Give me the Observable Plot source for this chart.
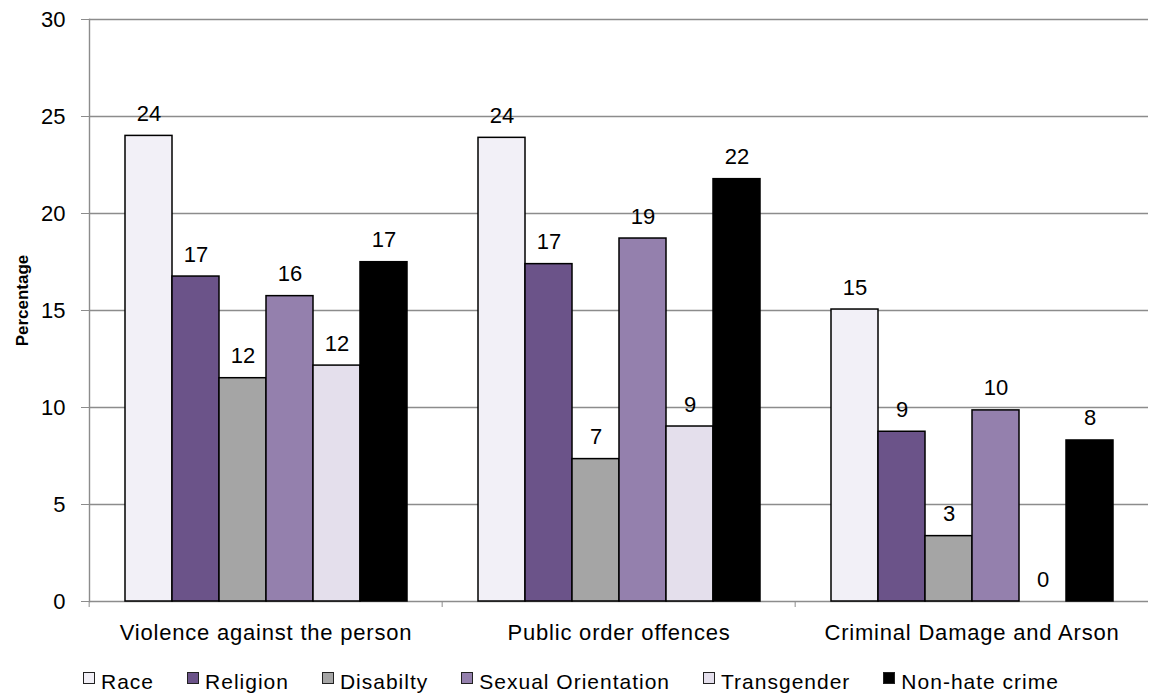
<!DOCTYPE html>
<html><head><meta charset="utf-8">
<script src="https://cdn.jsdelivr.net/npm/d3@7"></script>
<script src="https://cdn.jsdelivr.net/npm/@observablehq/plot@0.6"></script>
<style>
body{margin:0;background:#fff;font-family:"Liberation Sans",Arial,sans-serif;}
#chart svg{display:block;font-family:"Liberation Sans",Arial,sans-serif;}
g[aria-label="fx-axis tick label"] text{letter-spacing:0.8px;}
.legend{display:flex;gap:33px;padding-left:83px;margin-top:20px;font-size:21px;letter-spacing:1px;color:#000;line-height:24px;}
.item{display:flex;align-items:center;}
.sw{width:10px;height:10px;border:1.5px solid #222;margin-right:6px;position:relative;top:-4px;}
</style></head><body>
<div id="chart"></div>
<div class="legend" id="legend"></div>
<script>
// ---- data ----
const groups = ["Violence against the person", "Public order offences", "Criminal Damage and Arson"];
const series = ["Race", "Religion", "Disabilty", "Sexual Orientation", "Transgender", "Non-hate crime"];
const race        = [24.0, 23.9, 15.05];
const religion    = [16.75, 17.39, 8.75];
const disability  = [11.51, 7.34, 3.37];
const sexual      = [15.74, 18.71, 9.85];
const transgender = [12.16, 9.02, 0];
const nonHate     = [17.49, 21.77, 8.30];
const yTicks = [0, 5, 10, 15, 20, 25, 30];
const yLabel = "Percentage";
const colors = ["#F2F0F7", "#6B5389", "#A5A5A5", "#9480AD", "#E4DFEC", "#000000"];

const seriesValues = [race, religion, disability, sexual, transgender, nonHate];
const rows = [];
groups.forEach((g, i) => series.forEach((s, j) => rows.push({group: g, series: s, value: seriesValues[j][i]})));

const W = 1149, ML = 88, MR = 0;
const bw = (W - ML - MR) / groups.length;
const gray = "#8c8c8c";

const plot = Plot.plot({
  width: W, height: 650,
  marginLeft: ML, marginRight: MR, marginTop: 19, marginBottom: 49,
  style: {fontSize: "22px", fontFamily: "'Liberation Sans', Arial, sans-serif", color: "#000", background: "#fff", overflow: "visible"},
  fx: {domain: groups, padding: 0},
  x: {domain: series, paddingInner: 0, paddingOuter: 0.735, axis: null},
  y: {domain: [0, 30]},
  color: {domain: series, range: colors},
  marks: [
    Plot.gridY(yTicks, {stroke: gray, strokeOpacity: 1, strokeWidth: 1.4}),
    Plot.frame({anchor: "left", facetAnchor: "left", stroke: gray, strokeWidth: 1.4}),
    Plot.axisY(yTicks, {tickSize: 8, tickPadding: 16, stroke: gray, fill: "#000", label: null, fontSize: 22}),
    Plot.text([yLabel], {frameAnchor: "left", facetAnchor: "left", textAnchor: "middle", rotate: -90, dx: -67, dy: -10, fontWeight: "bold", fontSize: 17, fill: "#000"}),
    Plot.axisFx({anchor: "bottom", tickSize: 0, tickPadding: 23, label: null, fontSize: 22, fill: "#000"}),
    Plot.axisFx({anchor: "bottom", text: null, tickSize: 6, dx: -bw / 2, stroke: gray, label: null}),
    Plot.barY(rows.filter(d => d.value > 0), {fx: "group", x: "series", y: "value", fill: "series", stroke: "#000", strokeWidth: 1.5}),
    Plot.text(rows, {fx: "group", x: "series", y: "value", text: d => d3.format(".0f")(d.value), lineAnchor: "bottom", dy: -15, fontSize: 22, fill: "#000"})
  ]
});
document.getElementById("chart").appendChild(plot);

const legend = document.getElementById("legend");
series.forEach((s, j) => {
  const it = document.createElement("div");
  it.className = "item";
  const sw = document.createElement("span");
  sw.className = "sw";
  sw.style.background = colors[j];
  const t = document.createElement("span");
  t.textContent = s;
  it.appendChild(sw); it.appendChild(t);
  legend.appendChild(it);
});
</script>
</body></html>
